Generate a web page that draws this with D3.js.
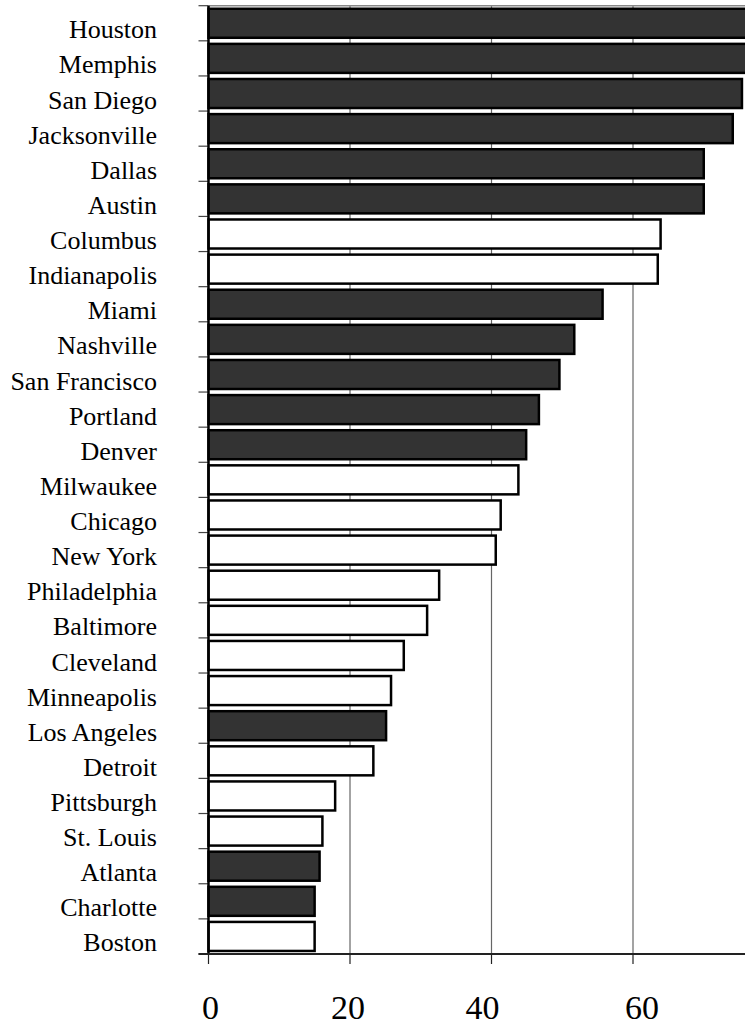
<!DOCTYPE html>
<html>
<head>
<meta charset="utf-8">
<script src="https://cdn.jsdelivr.net/npm/d3@7"></script>
<style>
  html, body { margin: 0; padding: 0; background: #fff; }
  svg { display: block; }
</style>
</head>
<body>
<script>
const cities = ["Houston","Memphis","San Diego","Jacksonville","Dallas","Austin","Columbus","Indianapolis","Miami","Nashville","San Francisco","Portland","Denver","Milwaukee","Chicago","New York","Philadelphia","Baltimore","Cleveland","Minneapolis","Los Angeles","Detroit","Pittsburgh","St. Louis","Atlanta","Charlotte","Boston"];
const values = [80, 78, 75.4, 74.1, 70.0, 70.0, 63.9, 63.5, 55.7, 51.7, 49.6, 46.7, 44.9, 43.8, 41.3, 40.6, 32.6, 30.9, 27.6, 25.8, 25.1, 23.3, 17.9, 16.1, 15.7, 15.0, 15.0];
const dark = [1,1,1,1,1,1,0,0,1,1,1,1,1,0,0,0,0,0,0,0,1,0,0,0,1,1,0];
const xTicks = [0, 20, 40, 60];
const xTickNudge = [2, -2, -9, 9];

(function () {
const W = 745, H = 1028;
const mLeft = 208.5, mTop = 5.7, mBottom = 954, mRight = 745;

const svg = d3.select("body").append("svg").attr("width", W).attr("height", H);

const x = d3.scaleLinear().domain([0, 76]).range([mLeft, mLeft + 76 * 7.075]);
const y = d3.scaleBand().domain(cities).range([mTop, mBottom]).padding(0);

svg.append("defs").append("clipPath").attr("id", "clip")
  .append("rect").attr("x", 0).attr("y", 0).attr("width", mRight).attr("height", H);

// gridlines
svg.append("g").selectAll("line").data(xTicks.filter(d => d > 0)).join("line")
  .attr("x1", d => x(d)).attr("x2", d => x(d))
  .attr("y1", mTop).attr("y2", mBottom)
  .attr("stroke", "#666").attr("stroke-width", 1.2);

// top border
svg.append("line").attr("x1", mLeft).attr("x2", mRight).attr("y1", mTop).attr("y2", mTop)
  .attr("stroke", "#888").attr("stroke-width", 1.5);

// bars
const bw = y.bandwidth();
const inset = 3.05;
svg.append("g").attr("clip-path", "url(#clip)")
  .selectAll("rect").data(cities).join("rect")
  .attr("x", x(0))
  .attr("y", (d) => y(d) + inset)
  .attr("width", (d, i) => x(values[i]) - x(0))
  .attr("height", bw - 2 * inset)
  .attr("fill", (d, i) => dark[i] ? "#333333" : "#ffffff")
  .attr("stroke", "#000")
  .attr("stroke-width", 2.5);

// y ticks at band boundaries
const bounds = cities.map(c => y(c)).concat([mBottom]);
svg.append("g").selectAll("line").data(bounds).join("line")
  .attr("x1", mLeft - 10).attr("x2", mLeft)
  .attr("y1", d => d).attr("y2", d => d)
  .attr("stroke", "#444").attr("stroke-width", 1.2);

// left axis line
svg.append("line").attr("x1", mLeft).attr("x2", mLeft).attr("y1", mTop).attr("y2", mBottom)
  .attr("stroke", "#000").attr("stroke-width", 2.5);

// bottom axis
svg.append("line").attr("x1", mLeft - 10).attr("x2", mRight).attr("y1", mBottom).attr("y2", mBottom)
  .attr("stroke", "#222").attr("stroke-width", 1.8);
svg.append("g").selectAll("line").data(xTicks).join("line")
  .attr("x1", d => x(d)).attr("x2", d => x(d))
  .attr("y1", mBottom).attr("y2", mBottom + 10)
  .attr("stroke", "#222").attr("stroke-width", 1.2);

svg.append("g").selectAll("text").data(xTicks).join("text")
  .attr("x", (d, i) => x(d) + xTickNudge[i])
  .attr("y", 1019)
  .attr("text-anchor", "middle")
  .attr("font-family", "'Liberation Serif', 'Times New Roman', serif")
  .attr("font-size", 34)
  .attr("fill", "#000")
  .text(d => d);

// category labels
svg.append("g").selectAll("text").data(cities).join("text")
  .attr("x", 157)
  .attr("y", d => y(d) + 32.6)
  .attr("text-anchor", "end")
  .attr("font-family", "'Liberation Serif', 'Times New Roman', serif")
  .attr("font-size", 26)
  .attr("fill", "#000")
  .text(d => d);
})();
</script>
</body>
</html>
